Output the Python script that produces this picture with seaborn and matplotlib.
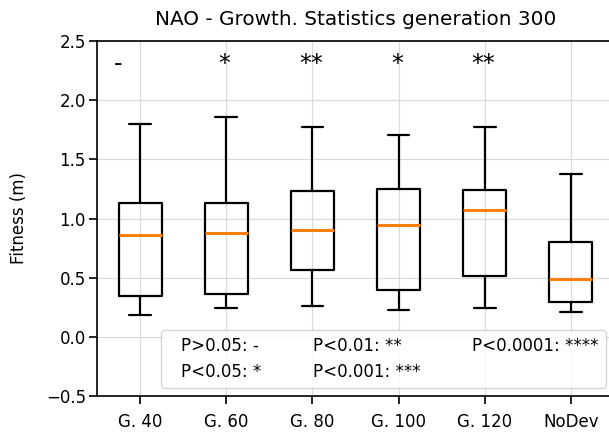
import matplotlib
matplotlib.use("Agg")
import matplotlib.pyplot as plt
import seaborn as sns
import pandas as pd
from matplotlib.lines import Line2D

# five-number summaries
groups = ["G. 40", "G. 60", "G. 80", "G. 100", "G. 120", "NoDev"]
low_whisker = [0.183, 0.242, 0.259, 0.225, 0.240, 0.209]
q1 = [0.342, 0.358, 0.568, 0.398, 0.514, 0.297]
median = [0.861, 0.878, 0.901, 0.941, 1.070, 0.486]
q3 = [1.127, 1.127, 1.231, 1.251, 1.240, 0.805]
high_whisker = [1.800, 1.858, 1.774, 1.708, 1.771, 1.378]

signif = ["-", "*", "**", "*", "**", ""]
legend_labels = ["P>0.05: -", "P<0.05: *", "P<0.01: **", "P<0.001: ***", "P<0.0001: ****"]

rows = []
for i, g in enumerate(groups):
    for v in (low_whisker[i], q1[i], median[i], q3[i], high_whisker[i]):
        rows.append({"group": g, "fitness": v})
df = pd.DataFrame(rows)

sns.set_style("ticks", {"axes.grid": True, "grid.color": ".85", "axes.edgecolor": "black",
                        "text.color": "black", "axes.labelcolor": "black",
                        "xtick.color": "black", "ytick.color": "black"})
plt.rcParams["font.family"] = ["DejaVu Sans"]

fig = plt.figure(figsize=(6.09, 4.33), dpi=100)
ax = fig.add_axes([97 / 609, 37 / 433, 517 / 609, 355 / 433])

sns.boxplot(data=df, x="group", y="fitness", order=groups, ax=ax, fill=False,
            color="black", width=0.5, linewidth=1.6,
            medianprops={"color": "#ff7f0e", "linewidth": 2.2})
ax.xaxis.grid(True)
ax.yaxis.grid(True)
ax.set_axisbelow(True)

for i, s in enumerate(signif):
    if not s:
        continue
    xpos = i - 0.26 if s == "-" else i - 0.02
    ax.text(xpos, 2.25, s, ha="center", va="baseline", fontsize=17)

ax.set_ylim(-0.5, 2.5)
ax.set_yticks([-0.5, 0.0, 0.5, 1.0, 1.5, 2.0, 2.5])
ax.set_xlabel("")
ax.set_ylabel("Fitness (m)", fontsize=12, labelpad=13)
ax.set_title("NAO - Growth. Statistics generation 300", fontsize=14.4, pad=11.5)
ax.tick_params(labelsize=12, length=6, width=1.2, color="black")
ax.tick_params(axis="y", pad=2)
ax.tick_params(axis="x", pad=6)
for sp in ax.spines.values():
    sp.set_linewidth(1.2)

handles = [Line2D([], [], linestyle="none") for _ in legend_labels]
ax.legend(handles, legend_labels, loc="lower right", ncol=3, handlelength=0,
          columnspacing=2.3, fontsize=12, framealpha=0.8, edgecolor="0.8")

fig.savefig("out.png", dpi=100)
